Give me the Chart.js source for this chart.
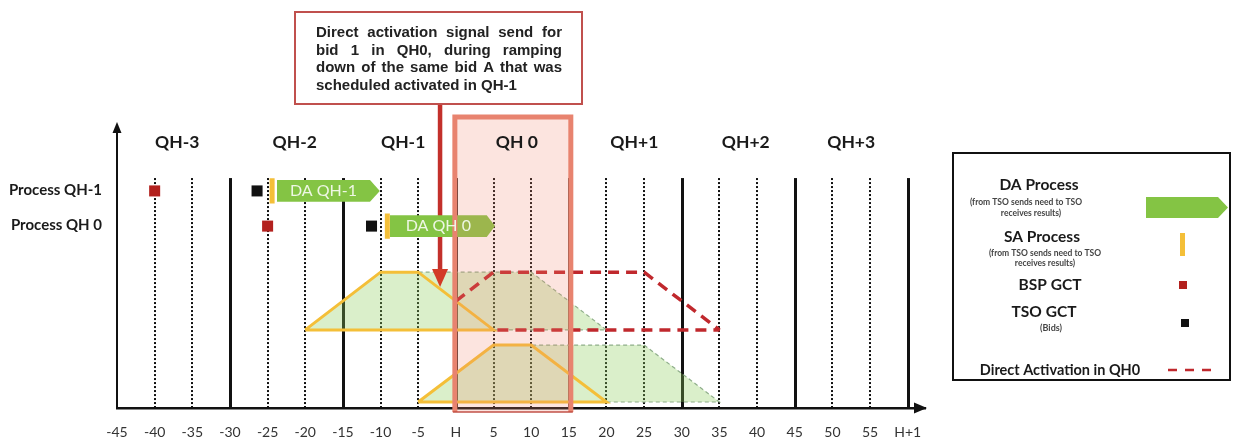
<!DOCTYPE html>
<html>
<head>
<meta charset="utf-8">
<script src="https://cdn.jsdelivr.net/npm/chart.js@4.4.1/dist/chart.umd.min.js"></script>
<style>
  body { margin: 0; background: #fff; }
  #wrap { width: 1233px; height: 441px; }
</style>
</head>
<body>
<div id="wrap"><canvas id="diagramChart" width="1233" height="441"></canvas></div>
<script>
// time axis (minutes relative to H)
const tickMinutes = [-45, -40, -35, -30, -25, -20, -15, -10, -5, 0, 5, 10, 15, 20, 25, 30, 35, 40, 45, 50, 55, 60];
const tickLabels = ["-45", "-40", "-35", "-30", "-25", "-20", "-15", "-10", "-5", "H", "5", "10", "15", "20", "25", "30", "35", "40", "45", "50", "55", "H+1"];
const solidLines = [-30, -15, 0, 15, 30, 45, 60];
const dottedLines = [-40, -35, -25, -20, -10, -5, 5, 10, 20, 25, 35, 40, 50, 55];
const gridTop = 80.4;

// quarter hour headings
const qhNames = ["QH-3", "QH-2", "QH-1", "QH 0", "QH+1", "QH+2", "QH+3"];
const qhPos = [-37, -21.4, -7, 8.1, 23.7, 38.5, 52.5];
const qhLevel = 93;

// process rows
const processRows = ["Process QH-1", "Process QH 0"];
const rowLevel = [75.9, 63.6];
const bspGct = [-40, -25];
const tsoGct = [-26.4, -11.2];
const saAt = [-24.4, -9.1];
const daStart = [-23.75, -8.75];
const daEnd = [-11.4, 4.1];
const daTip = [-10.1, 5.2];
const daNames = ["DA QH-1", "DA QH 0"];

// activation profiles (x = minute, y = level)
const scheduleAx = [-20, -10, 10, 20, -20];
const scheduleAy = [27.3, 47.5, 47.5, 27.3, 27.3];
const scheduleBx = [-5, 5, 25, 35, -5];
const scheduleBy = [2.1, 22, 22, 2.1, 2.1];
const bidAx = [-20, -10, -5, 5, -20];
const bidAy = [27.3, 47.5, 47.5, 27.3, 27.3];
const bidBx = [-5, 5, 10, 20, -5];
const bidBy = [2.1, 22, 22, 2.1, 2.1];
const directX = [0, 5, 25, 35, 5];
const directY = [37.4, 47.5, 47.5, 27.3, 27.3];

// annotation
const noteLines = ["Direct activation signal send for", "bid 1 in QH0, during ramping", "down of the same bid A that was", "scheduled activated in QH-1"];
const noteArrow = [-2.1, 43];

const GREEN = "#84c444";
const YELLOW = "#f4bf38";
const DARKRED = "#b3211e";
const DASHRED = "#c0282d";

function pts(xs, ys) {
  return xs.map((v, i) => ({ x: v, y: ys[i] }));
}

const datasets = [];
// squares on top
datasets.push({ data: pts(bspGct, rowLevel), pointStyle: "rect", pointRadius: 7.8, backgroundColor: DARKRED, borderWidth: 0, showLine: false });
datasets.push({ data: pts(tsoGct, rowLevel), pointStyle: "rect", pointRadius: 7.8, backgroundColor: "#111", borderWidth: 0, showLine: false });
// SA bars
saAt.forEach((m, i) => {
  datasets.push({ data: [{ x: m, y: rowLevel[i] + 4.4 }, { x: m, y: rowLevel[i] - 4.4 }], showLine: true, borderColor: YELLOW, borderWidth: 5, pointRadius: 0, borderCapStyle: "butt" });
});
// DA arrows
daStart.forEach((m, i) => {
  const r = rowLevel[i], h = 3.8;
  datasets.push({
    data: pts([m, m, daEnd[i], daTip[i], daEnd[i]], [r - h, r + h, r + h, r, r - h]),
    showLine: true, fill: "shape", backgroundColor: GREEN, borderColor: "transparent", borderWidth: 0, pointRadius: 0
  });
});
// direct activation dashed
datasets.push({ data: pts(directX, directY), showLine: true, borderColor: DASHRED, borderWidth: 3.5, borderDash: [11, 7], borderJoinStyle: "bevel", pointRadius: 0, fill: false });
// bid profiles (yellow)
datasets.push({ data: pts(bidAx, bidAy), showLine: true, borderColor: YELLOW, borderWidth: 3, pointRadius: 0, fill: false, borderJoinStyle: "miter" });
datasets.push({ data: pts(bidBx, bidBy), showLine: true, borderColor: YELLOW, borderWidth: 3, pointRadius: 0, fill: false, borderJoinStyle: "miter" });
// scheduled activation (green fill)
datasets.push({ data: pts(scheduleAx, scheduleAy), showLine: true, fill: "shape", backgroundColor: "rgba(140,205,90,0.32)", borderColor: "#8fae8a", borderWidth: 1.2, borderDash: [4, 3], pointRadius: 0 });
datasets.push({ data: pts(scheduleBx, scheduleBy), showLine: true, fill: "shape", backgroundColor: "rgba(140,205,90,0.32)", borderColor: "#8fae8a", borderWidth: 1.2, borderDash: [4, 3], pointRadius: 0 });

function drawText(ctx, str, x, y, font, color, align) {
  ctx.font = font;
  ctx.fillStyle = color;
  ctx.textAlign = align || "center";
  ctx.textBaseline = "middle";
  ctx.fillText(str, x, y);
}

function justify(ctx, str, left, right, y, last) {
  ctx.textAlign = "left";
  if (last) { ctx.fillText(str, left, y); return; }
  const words = str.split(" ");
  const total = words.reduce((s, w) => s + ctx.measureText(w).width, 0);
  const gap = (right - left - total) / (words.length - 1);
  let x = left;
  words.forEach((w) => { ctx.fillText(w, x, y); x += ctx.measureText(w).width + gap; });
}

const diagram = {
  id: "diagram",
  beforeDatasetsDraw(chart) {
    const { ctx, scales: { x, y } } = chart;
    const top = y.getPixelForValue(gridTop);
    const bottom = y.getPixelForValue(0);
    ctx.save();
    ctx.strokeStyle = "#111";
    ctx.lineWidth = 2;
    ctx.setLineDash([2, 2]);
    dottedLines.forEach((m) => {
      const px = Math.round(x.getPixelForValue(m));
      ctx.beginPath(); ctx.moveTo(px, top); ctx.lineTo(px, bottom); ctx.stroke();
    });
    ctx.setLineDash([]);
    ctx.lineWidth = 3;
    solidLines.forEach((m) => {
      const px = Math.round(x.getPixelForValue(m)) + 0.5;
      ctx.beginPath(); ctx.moveTo(px, top); ctx.lineTo(px, bottom); ctx.stroke();
    });
    // y axis with arrow
    const ax = x.getPixelForValue(-45);
    ctx.lineWidth = 2;
    ctx.beginPath(); ctx.moveTo(ax, bottom); ctx.lineTo(ax, chart.chartArea.top + 8); ctx.stroke();
    ctx.fillStyle = "#111";
    ctx.beginPath();
    ctx.moveTo(ax, chart.chartArea.top);
    ctx.lineTo(ax - 4.5, chart.chartArea.top + 11);
    ctx.lineTo(ax + 4.5, chart.chartArea.top + 11);
    ctx.closePath(); ctx.fill();
    // x axis arrow head
    const ex = chart.chartArea.right;
    ctx.beginPath();
    ctx.moveTo(ex + 2, bottom);
    ctx.lineTo(ex - 11, bottom - 5.5);
    ctx.lineTo(ex - 11, bottom + 5.5);
    ctx.closePath(); ctx.fill();
    // annotation pointer shaft
    const nx = x.getPixelForValue(noteArrow[0]);
    const ny = y.getPixelForValue(noteArrow[1]);
    ctx.strokeStyle = "#c3302b";
    ctx.lineWidth = 4.5;
    ctx.beginPath(); ctx.moveTo(nx, 104); ctx.lineTo(nx, ny - 14); ctx.stroke();
    ctx.restore();
  },
  afterDatasetsDraw(chart) {
    const { ctx, scales: { x, y } } = chart;
    ctx.save();
    // annotation pointer head
    const nx = x.getPixelForValue(noteArrow[0]);
    const ny = y.getPixelForValue(noteArrow[1]);
    ctx.fillStyle = "#d33a26";
    ctx.beginPath();
    ctx.moveTo(nx, ny + 2);
    ctx.lineTo(nx - 8, ny - 16);
    ctx.lineTo(nx + 8, ny - 16);
    ctx.closePath(); ctx.fill();

    // QH 0 highlight
    const bx0 = x.getPixelForValue(0) - 1, bx1 = x.getPixelForValue(15) + 2;
    const by0 = 117, by1 = 412;
    ctx.fillStyle = "rgba(240,130,110,0.22)";
    ctx.fillRect(bx0, by0, bx1 - bx0, by1 - by0);
    ctx.strokeStyle = "#e8836f";
    ctx.lineWidth = 5;
    ctx.beginPath();
    ctx.moveTo(bx0, by1); ctx.lineTo(bx0, by0); ctx.lineTo(bx1, by0); ctx.lineTo(bx1, by1);
    ctx.stroke();
    ctx.strokeStyle = "rgba(190,70,60,0.7)";
    ctx.lineWidth = 2;
    ctx.beginPath(); ctx.moveTo(bx0 - 2, by1); ctx.lineTo(bx1 + 2, by1); ctx.stroke();

    // DA labels
    daNames.forEach((n, i) => {
      const cx = (x.getPixelForValue(daStart[i]) + x.getPixelForValue(daEnd[i])) / 2;
      drawText(ctx, n, cx, y.getPixelForValue(rowLevel[i]), "16px Lato", "#eef7e4");
    });
    // QH headings
    qhNames.forEach((n, i) => {
      drawText(ctx, n, x.getPixelForValue(qhPos[i]), y.getPixelForValue(qhLevel), "bold 17.5px Lato", "#1a1a1a");
    });
    // process row labels
    processRows.forEach((n, i) => {
      drawText(ctx, n, 102, y.getPixelForValue(rowLevel[i]) - 1, "bold 15px Lato", "#1a1a1a", "right");
    });

    // annotation box
    ctx.fillStyle = "#fff";
    ctx.fillRect(295, 12, 287, 92);
    ctx.strokeStyle = "#c0504d";
    ctx.lineWidth = 2;
    ctx.strokeRect(295, 12, 287, 92);
    ctx.font = "bold 15px 'Liberation Sans'";
    ctx.fillStyle = "#222";
    ctx.textBaseline = "alphabetic";
    noteLines.forEach((l, i) => {
      justify(ctx, l, 316, 562, 37 + i * 17.7, i === noteLines.length - 1);
    });

    // legend
    ctx.strokeStyle = "#111";
    ctx.lineWidth = 2;
    ctx.strokeRect(953, 153, 277, 227);
    drawText(ctx, "DA Process", 1039, 185, "bold 15.5px Lato", "#1a1a1a");
    drawText(ctx, "(from TSO sends need to TSO", 1026, 202, "bold 8.5px Lato", "#444");
    drawText(ctx, "receives results)", 1031, 213, "bold 8.5px Lato", "#444");
    ctx.fillStyle = GREEN;
    ctx.beginPath();
    ctx.moveTo(1146, 197); ctx.lineTo(1218, 197); ctx.lineTo(1228, 207.5); ctx.lineTo(1218, 218); ctx.lineTo(1146, 218);
    ctx.closePath(); ctx.fill();
    drawText(ctx, "SA Process", 1042, 237, "bold 15.5px Lato", "#1a1a1a");
    drawText(ctx, "(from TSO sends need to TSO", 1045, 253, "bold 8.5px Lato", "#444");
    drawText(ctx, "receives results)", 1045, 263, "bold 8.5px Lato", "#444");
    ctx.fillStyle = YELLOW;
    ctx.fillRect(1180, 233, 5, 23);
    drawText(ctx, "BSP GCT", 1050, 285, "bold 15.5px Lato", "#1a1a1a");
    ctx.fillStyle = DARKRED;
    ctx.fillRect(1179, 281, 8, 8);
    drawText(ctx, "TSO GCT", 1044, 312, "bold 15.5px Lato", "#1a1a1a");
    drawText(ctx, "(Bids)", 1051, 328, "bold 9px Lato", "#444");
    ctx.fillStyle = "#111";
    ctx.fillRect(1181, 319, 8, 8);
    drawText(ctx, "Direct Activation in QH0", 1060, 370, "bold 14.5px Lato", "#1a1a1a");
    ctx.strokeStyle = DASHRED;
    ctx.lineWidth = 2.5;
    ctx.setLineDash([9, 8]);
    ctx.beginPath(); ctx.moveTo(1168, 370); ctx.lineTo(1214, 370); ctx.stroke();
    ctx.restore();
  }
};

const ctx = document.getElementById("diagramChart").getContext("2d");
new Chart(ctx, {
  type: "scatter",
  data: { datasets: datasets },
  plugins: [diagram],
  options: {
    responsive: false,
    animation: false,
    devicePixelRatio: 1,
    events: [],
    layout: { padding: { left: 117, right: 308, top: 122, bottom: 0 } },
    plugins: { legend: { display: false }, tooltip: { enabled: false } },
    scales: {
      x: {
        type: "linear",
        min: -45,
        max: 62.3,
        afterBuildTicks: (scale) => { scale.ticks = tickMinutes.map((v) => ({ value: v })); },
        afterFit: (scale) => { scale.height = 33; },
        ticks: {
          autoSkip: false,
          maxRotation: 0,
          padding: 16,
          color: "#333",
          font: { family: "Lato", size: 14 },
          callback: (v) => tickLabels[tickMinutes.indexOf(v)] ?? ""
        },
        grid: { display: false, drawTicks: false },
        border: { display: true, color: "#111", width: 2.5 }
      },
      y: { type: "linear", min: 0, max: 100, display: false }
    }
  }
});
</script>
</body>
</html>
